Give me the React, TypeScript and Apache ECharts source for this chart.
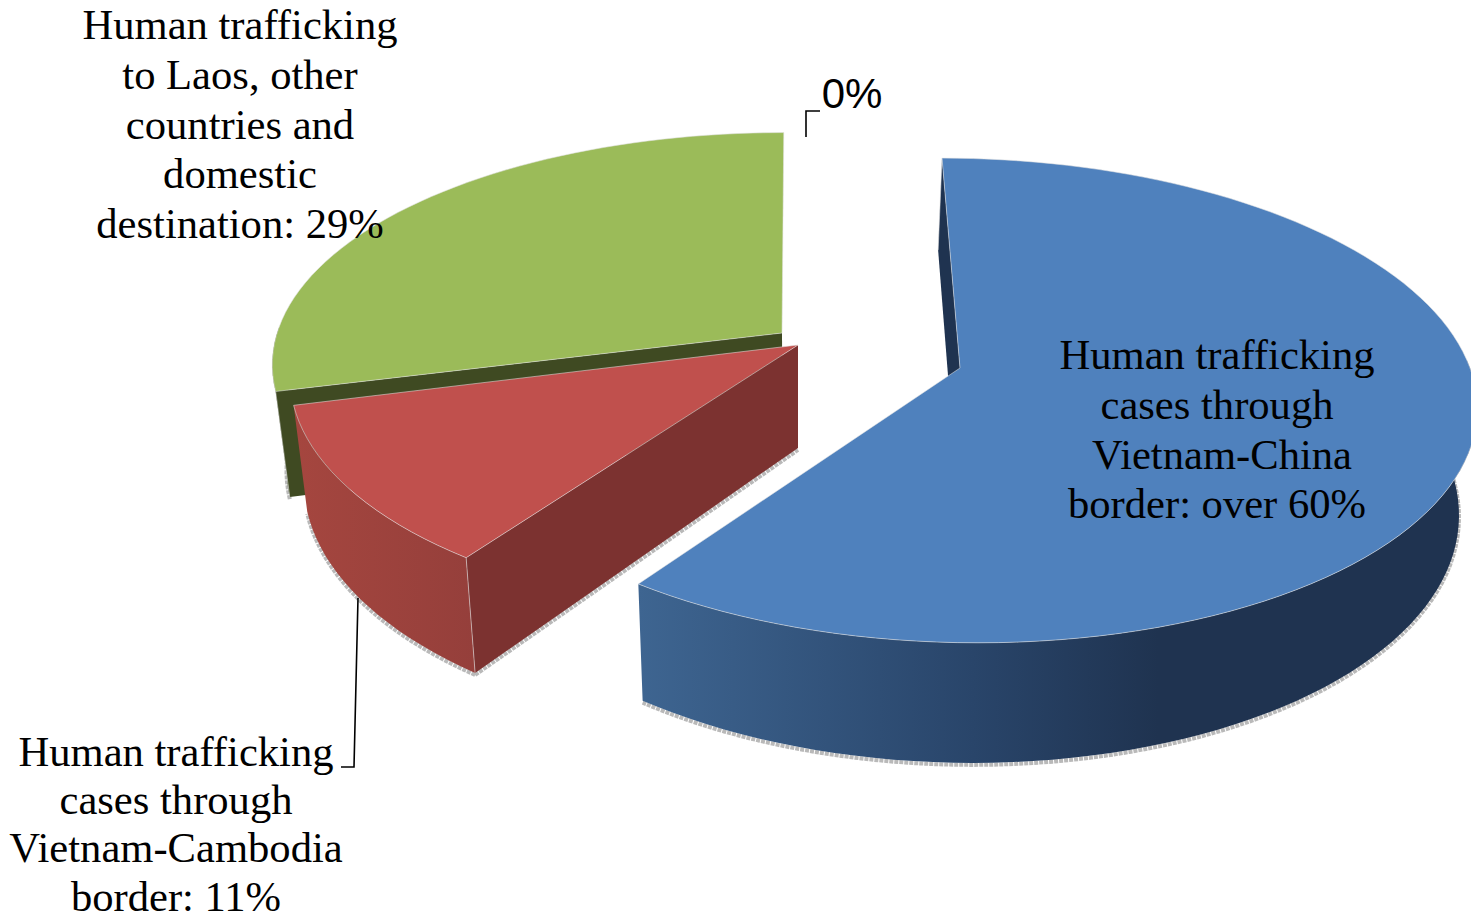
import React, { useEffect, useRef } from "react";
import * as echarts from "echarts";

const categories = [
  "Human trafficking\ncases through\n Vietnam-China\nborder: over 60%",
  "Human trafficking\ncases through\nVietnam-Cambodia\nborder: 11%",
  "Human trafficking\nto Laos, other\ncountries and\ndomestic\ndestination: 29%",
  "0%",
];
const values = [60, 11, 29, 0];

const topColors = ["#4f81bd", "#c0504d", "#9bbb59", "#8064a2"];
const chordColors = ["#1f3350", "#7c3230", "#3f4a22", "#4d3b62"];
const wallStops = [
  [[0, "#3e6591"], [0.4, "#29456a"], [0.62, "#1f3350"], [1, "#1f3350"]],
  [[0, "#a5463f"], [1, "#953f3b"]],
  [[0, "#3f4a22"], [1, "#3f4a22"]],
  [[0, "#4d3b62"], [1, "#4d3b62"]],
];
const apexX = [960, 798, 782, 800];
const apexY = [368, 345, 333, 330];
const sizeX = [1, 0.987, 0.99, 1];
const sizeY = [1, 0.985, 0.955, 1];
const drawOrder = [3, 2, 1, 0];

const R = 510;
const RK = 238;
const PERSP = 0.134;
const VP_X = 798;
const SHEAR = 0.111;
const DEPTH_BASE = 83;
const DEPTH_SLOPE = 0.0577;
const DEPTH_X = 0.027;

const total = values.reduce((a, b) => a + b, 0);

function rimPoint(i: number, deg: number): number[] {
  const a = (deg * Math.PI) / 180;
  const u = Math.sin(a);
  const v = -Math.cos(a);
  const s = 1 / (1 - PERSP * v);
  return [
    apexX[i] + R * sizeX[i] * u * s + (VP_X - apexX[i]) * SHEAR * -v,
    apexY[i] + RK * sizeY[i] * v * s,
  ];
}
function lower(p: number[]): number[] {
  return [p[0] + (VP_X - p[0]) * DEPTH_X, p[1] + DEPTH_BASE + DEPTH_SLOPE * p[1]];
}

function renderSlice(params: any, api: any) {
  const i = params.dataIndex;
  const val = api.value(0);
  if (!val) return { type: "group", children: [] };
  const start = (values.slice(0, i).reduce((a, b) => a + b, 0) / total) * 360;
  const end = start + (val / total) * 360;
  const rim: number[][] = [];
  const steps = Math.ceil((end - start) / 2);
  for (let n = 0; n <= steps; n++) rim.push(rimPoint(i, start + ((end - start) * n) / steps));
  const apex = [apexX[i], apexY[i]];
  const apexLow = lower(apex);
  const first = rim[0];
  const z2 = drawOrder[i];
  const edge = { stroke: "rgba(225,225,225,0.55)", lineWidth: 1 };
  const frontRim = rim.filter((p) => p[1] > apexY[i] - 10);
  const frontLow = frontRim.map(lower);
  const children: any[] = [
    {
      type: "polyline",
      z2,
      shape: { points: frontLow.map((p) => [p[0], p[1] + 2]) },
      style: { fill: "none", stroke: "#b9b9b9", lineWidth: 4, lineDash: [4, 1] },
    },
    {
      type: "polyline",
      z2,
      shape: { points: [[lower(first)[0], lower(first)[1] + 2], [apexLow[0], apexLow[1] + 2]] },
      style: { fill: "none", stroke: i === 1 ? "#b9b9b9" : "none", lineWidth: 4, lineDash: [4, 1] },
    },
    {
      type: "polygon",
      z2,
      shape: { points: [...frontRim, ...frontLow.slice().reverse()] },
      style: {
        fill: new echarts.graphic.LinearGradient(0, 0, 1, 0,
          wallStops[i].map((s: any) => ({ offset: s[0], color: s[1] }))),
      },
    },
    {
      type: "polygon",
      z2,
      shape: { points: [first, apex, apexLow, lower(first)] },
      style: { fill: chordColors[i] },
    },
    {
      type: "polyline",
      z2,
      shape: { points: [first, lower(first)] },
      style: { fill: "none", ...edge },
    },
    {
      type: "polygon",
      z2,
      shape: { points: [apex, ...rim] },
      style: { fill: topColors[i], ...edge },
    },
  ];
  return { type: "group", children };
}

const labelX = [1217, 176, 240, 852];
const labelTop = [330, 727, 0, 68];
const labelLineHeight = [49.7, 48.3, 49.7, 50];
const leaderLines = [
  null,
  [[358, 598], [354, 767], [341, 767]],
  null,
  [[806, 137], [806, 111], [820, 111]],
];

export default function App() {
  const ref = useRef<HTMLDivElement>(null);
  useEffect(() => {
    document.body.style.margin = "0";
    document.body.style.background = "#ffffff";
    const chart = echarts.init(ref.current!, null, { renderer: "svg" });
    const graphic: any[] = [];
    categories.forEach((c, i) => {
      const sans = c === "0%";
      graphic.push({
        type: "text",
        x: labelX[i],
        y: labelTop[i],
        z: 10,
        style: {
          text: c,
          align: "center",
          verticalAlign: "top",
          fill: "#000000",
          font: sans ? '42px "Liberation Sans"' : '42.6px "Liberation Serif"',
          lineHeight: labelLineHeight[i],
        },
      });
      const l = leaderLines[i];
      if (l) {
        graphic.push({
          type: "polyline",
          z: 10,
          shape: { points: l },
          style: { fill: "none", stroke: "#000000", lineWidth: 1.6 },
        });
      }
    });
    chart.setOption({
      animation: false,
      backgroundColor: "#ffffff",
      series: [
        {
          type: "custom",
          coordinateSystem: "none",
          renderItem: renderSlice,
          silent: true,
          data: values.map((v, i) => ({ name: categories[i], value: [v] })),
        },
      ],
      graphic,
    });
    return () => chart.dispose();
  }, []);
  return <div ref={ref} style={{ width: 1471, height: 921, overflow: "hidden" }} />;
}
